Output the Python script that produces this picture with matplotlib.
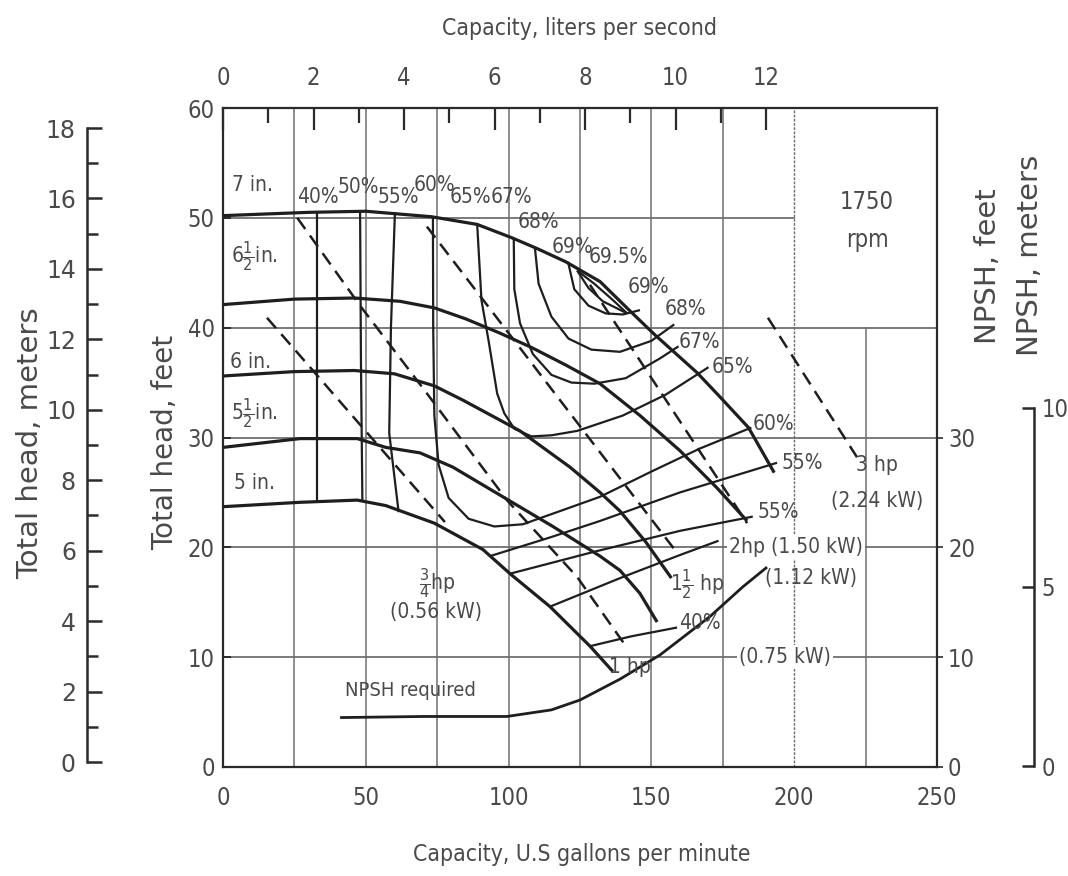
import numpy as np
import matplotlib.pyplot as plt
from matplotlib import font_manager

# a narrow face is closest to the original lettering
cond = [f for f in font_manager.fontManager.ttflist
        if ('Condensed' in f.fname or 'Narrow' in f.fname) and 'Bold' not in f.fname
        and 'Oblique' not in f.fname and 'Italic' not in f.fname]
if cond:
    NARROW = dict(family=cond[0].name, stretch=cond[0].stretch)
    SCALE = 1.0
else:
    NARROW = dict(family='DejaVu Sans')
    SCALE = 0.84
plt.rcParams['font.family'] = ['DejaVu Sans']

# ---------------------------------------------------------------
# data (capacity in US gpm, head in feet)
# ---------------------------------------------------------------
imp_7 = [(0, 50.2), (30, 50.5), (50, 50.6), (73, 50.1), (89, 49.4), (101, 48.2),
         (110, 47.2), (120, 46.0), (132, 44.2), (143, 41.4), (151, 39.4),
         (166, 35.9), (174, 33.7), (184, 30.9), (193, 26.8)]
imp_65 = [(0, 42.1), (25, 42.6), (46, 42.7), (62, 42.4), (74, 41.8), (85, 40.8),
          (97, 39.5), (108, 38.2), (120, 36.6), (132, 34.9), (146, 32.0),
          (160, 28.8), (173, 25.4), (183.5, 22.4)]
imp_6 = [(0, 35.6), (25, 36.0), (46, 36.1), (60, 35.8), (74, 34.7), (84, 33.4),
         (104, 30.6), (121.5, 27.3), (132, 25.0), (139, 23.3), (148, 20.5), (157, 17.2)]
imp_55 = [(0, 29.1), (27, 29.9), (47, 29.9), (57, 29.1), (69, 28.6), (80.5, 27.3),
          (98, 24.6), (115.5, 21.9), (132, 19.2), (139, 17.9), (146, 15.8), (152, 13.2)]
imp_5 = [(0, 23.7), (27, 24.1), (47, 24.3), (57, 23.8), (74, 22.2), (91, 19.8),
         (100.5, 17.6), (114.5, 14.6), (128.5, 11.0), (136.5, 8.7)]

eff_40_left = [(33, 50.6), (33, 24.1)]
eff_40_right = [(128.5, 11.0), (143, 11.9), (159, 12.7)]
eff_50_left = [(48, 50.6), (48.3, 37), (48.8, 24.3)]
eff_50_right = [(114.5, 14.6), (140, 17.3), (160, 19.3), (173.5, 20.6)]
eff_55_left = [(60.2, 50.5), (58.8, 40), (58.2, 30.4), (61.5, 23.2)]
eff_55_right = [(100.5, 17.6), (130, 19.6), (160, 21.5), (185.5, 22.8)]
eff_55_top = [(93.5, 19.2), (114.5, 20.9), (132, 22.4), (160, 25.0), (194, 27.7)]
eff_60 = [(73.5, 50.1), (73.6, 40), (74, 32), (75.5, 27.5), (79, 24.5), (86, 22.6),
          (95, 21.9), (105, 22.1), (118, 23.3), (132, 24.6), (150, 26.9),
          (167, 29.0), (185, 30.9)]
eff_65 = [(89, 49.4), (90.5, 42.5), (93, 38.8), (96, 34), (98.5, 32.2), (102, 30.8),
          (108, 30.1), (115, 30.2), (124, 30.6), (140, 32.0), (155, 33.9), (170, 36.4)]
eff_67 = [(101.8, 48.2), (102, 43.5), (104, 40.4), (108.5, 37.6), (115, 35.7),
          (122, 35.0), (130, 34.9), (141, 35.4), (153, 37.2), (159.5, 38.3)]
eff_68 = [(109.2, 47.3), (110.5, 44), (115, 41), (121, 39), (129, 38), (139, 37.8),
          (150, 38.8), (158, 40.3)]
eff_69 = [(120.8, 46), (123, 43.5), (128, 42), (134, 41.3), (140, 41.2), (146, 41.6)]
eff_695_up = [(124, 45.2), (130, 44.0), (137, 42.4), (141.5, 41.3)]
eff_695_lo = [(124, 45.2), (128, 43.6), (133, 42.4), (141.5, 41.3)]

hp_075 = [(15.4, 40.9), (77.7, 22.3)]
hp_1 = [(26, 50), (48, 42), (69.7, 34.6), (99.4, 24.3), (124, 17.3), (140.8, 11.1)]
hp_15 = [(71.4, 49.2), (159, 19.5)]
hp_2 = [(128.5, 43.9), (183.5, 22.2)]
hp_3 = [(190.8, 40.9), (222, 28.2)]

npsh_req = [(41, 4.5), (70, 4.6), (99.4, 4.6), (115, 5.2), (125, 6.1), (139, 8.0),
            (153, 10.2), (170.5, 13.7), (182, 16.4), (190.5, 18.2)]

gpm_ticks = [0, 50, 100, 150, 200, 250]
ft_ticks = [0, 10, 20, 30, 40, 50, 60]
npsh_ft_ticks = [0, 10, 20, 30]
lps_ticks = [0, 2, 4, 6, 8, 10, 12]
m_ticks = [0, 2, 4, 6, 8, 10, 12, 14, 16, 18]
npsh_m_ticks = [0, 5, 10]
GPM_PER_LPS = 15.85

# ---------------------------------------------------------------
W, H = 1068, 876
fig = plt.figure(figsize=(W / 100, H / 100), dpi=100)
TXT = '#4a4a4a'
LN = '#1e1e1e'
GR = '#6f6f6f'
SP = '#2a2a2a'


def box(x0, y0, x1, y1):
    return [x0 / W, 1 - y1 / H, (x1 - x0) / W, (y1 - y0) / H]


def narrow_ticks(a, axis):
    labs = a.get_xticklabels() if axis == 'x' else a.get_yticklabels()
    for t in labs:
        t.set_family(NARROW['family'])
        if 'stretch' in NARROW:
            t.set_stretch(NARROW['stretch'])


ax = fig.add_axes(box(223, 108, 937, 767))
ax.set_xlim(0, 250)
ax.set_ylim(0, 60)
for s in ax.spines.values():
    s.set_color(SP)
    s.set_linewidth(1.6)

# grid
for g in [25, 50, 75, 100, 125, 150, 175]:
    ax.plot([g, g], [0, 60], color=GR, lw=1.1, zorder=1)
ax.plot([200, 200], [0, 60], color=GR, lw=1.0, ls=(0, (2, 1)), zorder=1)
ax.plot([225, 225], [0, 40], color=GR, lw=1.1, zorder=1)
ax.plot([0, 200], [50, 50], color=GR, lw=1.3, zorder=1)
for g in [10, 20, 30, 40]:
    ax.plot([0, 250], [g, g], color=GR, lw=1.3, zorder=1)


def curve(pts, **kw):
    a = np.array(pts)
    ax.plot(a[:, 0], a[:, 1], color=LN, solid_capstyle='butt', **kw)


for c in [imp_7, imp_65, imp_6, imp_55, imp_5]:
    curve(c, lw=2.3, zorder=4)
for c in [eff_40_left, eff_40_right, eff_50_left, eff_50_right, eff_55_left,
          eff_55_right, eff_55_top, eff_60, eff_65, eff_67, eff_68, eff_69,
          eff_695_up, eff_695_lo]:
    curve(c, lw=1.6, zorder=3)
for c in [hp_075, hp_1, hp_15, hp_2, hp_3]:
    curve(c, lw=1.8, dashes=(5.5, 3.2), zorder=3)
curve(npsh_req, lw=2.0, zorder=4)


def lab(x, y, s, size=15, **kw):
    ax.text(x, y, s, fontsize=size * SCALE, color=TXT, ha='center', va='center',
            zorder=6, **NARROW, **kw)


wb = dict(facecolor='white', edgecolor='none', pad=1.5)

# impeller labels
lab(10.2, 53.0, '7 in.')
lab(10.9, 46.5, r'6$\frac{1}{2}$in.')
lab(9.8, 36.9, '6 in.')
lab(10.9, 32.2, r'5$\frac{1}{2}$in.')
lab(11.2, 25.9, '5 in.')

# efficiency labels
for x, y, s in [(33.3, 51.9, '40%'), (47.3, 52.8, '50%'), (61.3, 51.9, '55%'),
                (74.2, 53.0, '60%'), (86.8, 51.9, '65%'), (101.1, 51.9, '67%'),
                (110.3, 49.6, '68%'), (122.2, 47.3, '69%'), (138.6, 46.4, '69.5%'),
                (148.8, 43.7, '69%'), (161.8, 41.7, '68%'), (166.7, 38.7, '67%'),
                (178.2, 36.4, '65%'), (192.6, 31.2, '60%'), (202.8, 27.7, '55%'),
                (194.3, 23.2, '55%'), (167, 13.1, '40%')]:
    lab(x, y, s)

lab(225.5, 51.4, '1750', size=17)
lab(225.5, 48.0, 'rpm', size=17)
lab(75.2, 16.7, r'$\frac{3}{4}$hp')
lab(74.5, 14.1, '(0.56 kW)')
lab(142.5, 9.1, '1 hp')
lab(196.8, 10.0, '(0.75 kW)', bbox=wb)
lab(166.0, 16.6, r'1$\frac{1}{2}$ hp')
lab(205.9, 17.2, '(1.12 kW)')
lab(200.6, 20.0, '2hp (1.50 kW)', bbox=wb)
lab(229.0, 27.5, '3 hp')
lab(229.0, 24.2, '(2.24 kW)')
lab(65.5, 7.0, 'NPSH required', size=14.5)

# bottom / left ticks
ax.set_xticks(gpm_ticks)
ax.set_yticks(ft_ticks)
ax.tick_params(axis='x', length=0, pad=14, labelsize=17 * SCALE, labelcolor=TXT)
ax.tick_params(axis='y', direction='in', length=6, width=1.4, color=SP,
               pad=6, labelsize=17 * SCALE, labelcolor=TXT)
narrow_ticks(ax, 'x')
narrow_ticks(ax, 'y')

# right NPSH feet scale
axr = ax.twinx()
axr.set_ylim(0, 60)
axr.set_yticks(npsh_ft_ticks)
axr.tick_params(axis='y', direction='out', length=4, width=1.2, color=SP,
                pad=4, labelsize=17 * SCALE, labelcolor=TXT)
narrow_ticks(axr, 'y')
for s in axr.spines.values():
    s.set_visible(False)

# top liters per second scale
axt = ax.twiny()
axt.set_xlim(0, 250 / GPM_PER_LPS)
axt.set_xticks(lps_ticks)
axt.set_xticks([1, 3, 5, 7, 9, 11], minor=True)
axt.tick_params(axis='x', which='major', direction='in', length=16, width=1.6,
                color=SP, pad=13, labelsize=17 * SCALE, labelcolor=TXT)
axt.tick_params(axis='x', which='minor', direction='in', length=11, width=1.6,
                color=SP)
narrow_ticks(axt, 'x')
for s in axt.spines.values():
    s.set_visible(False)

# left meters scale
axm = fig.add_axes(box(87, 128, 87.5, 762))
axm.set_ylim(0, 18)
axm.set_xticks([])
axm.set_yticks(m_ticks)
axm.set_yticks(range(1, 18, 2), minor=True)
for k in ['top', 'right', 'bottom']:
    axm.spines[k].set_visible(False)
axm.spines['left'].set_linewidth(1.8)
axm.spines['left'].set_color(SP)
axm.tick_params(axis='y', which='major', direction='in', length=11, width=1.8,
                color=SP, pad=8, labelsize=17, labelcolor=TXT)
axm.tick_params(axis='y', which='minor', direction='in', length=8, width=1.8,
                color=SP)
axm.patch.set_visible(False)

# right NPSH meters scale
axn = fig.add_axes(box(1034, 408, 1034.5, 766))
axn.set_ylim(0, 10)
axn.set_xticks([])
axn.set_yticks(npsh_m_ticks)
for k in ['top', 'right', 'bottom']:
    axn.spines[k].set_visible(False)
axn.spines['left'].set_linewidth(1.8)
axn.spines['left'].set_color(SP)
axn.tick_params(axis='y', direction='out', length=9, width=1.8, color=SP,
                labelleft=False, labelright=True, pad=-4, labelsize=17 * SCALE,
                labelcolor=TXT)
narrow_ticks(axn, 'y')
axn.patch.set_visible(False)

# axis titles
ft = dict(color=TXT, ha='center', va='center')
fig.text(579 / W, 1 - 28 / H, 'Capacity, liters per second', fontsize=16.5 * SCALE,
         **NARROW, **ft)
fig.text(582 / W, 1 - 855 / H, 'Capacity, U.S gallons per minute', fontsize=16.5 * SCALE,
         **NARROW, **ft)
fig.text(165 / W, 1 - 442 / H, 'Total head, feet', fontsize=20, rotation=90, **ft)
fig.text(30 / W, 1 - 443 / H, 'Total head, meters', fontsize=21, rotation=90, **ft)
fig.text(988 / W, 1 - 266 / H, 'NPSH, feet', fontsize=21, rotation=90, **ft)
fig.text(1030 / W, 1 - 255 / H, 'NPSH, meters', fontsize=21, rotation=90, **ft)

fig.savefig('out.png', dpi=100, facecolor='white')
